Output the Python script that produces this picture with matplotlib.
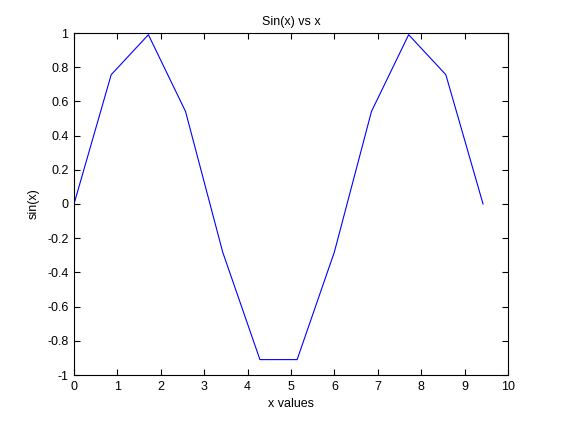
import matplotlib
matplotlib.use('Agg')
import matplotlib.pyplot as plt

plt.rcParams.update({
    'font.family': ['Liberation Sans', 'DejaVu Sans'],
    'font.size': 9,
})

x_vals = [0.0, 0.857, 1.714, 2.570, 3.427, 4.284, 5.141, 5.998, 6.854, 7.711, 8.568, 9.425]
sin_vals = [0.0, 0.756, 0.990, 0.541, -0.282, -0.910, -0.910, -0.282, 0.541, 0.990, 0.756, 0.0]
x_ticks = list(range(0, 11))
y_ticks = [-1, -0.8, -0.6, -0.4, -0.2, 0, 0.2, 0.4, 0.6, 0.8, 1]

fig = plt.figure(figsize=(5.62, 4.22), dpi=100)
ax = fig.add_axes([74 / 562, 1 - 375 / 422, 434 / 562, 342 / 422])
ax.plot(x_vals, sin_vals, color='#0000ff', linewidth=0.8)
ax.set_xlim(0, 10)
ax.set_ylim(-1, 1)
ax.set_xticks(x_ticks)
ax.set_xticklabels([str(t) for t in x_ticks])
ax.set_yticks(y_ticks)
ax.set_yticklabels(['-1', '-0.8', '-0.6', '-0.4', '-0.2', '0', '0.2', '0.4', '0.6', '0.8', '1'])
ax.tick_params(direction='in', length=4, width=0.8, top=True, right=True, labelsize=9, pad=4)
for sp in ax.spines.values():
    sp.set_linewidth(0.8)
ax.set_title('Sin(x) vs x', fontsize=9, pad=6)
ax.set_xlabel('x values', fontsize=9, labelpad=4)
ax.set_ylabel('sin(x)', fontsize=9, labelpad=5)

fig.savefig('out.png', dpi=100, facecolor='white')
